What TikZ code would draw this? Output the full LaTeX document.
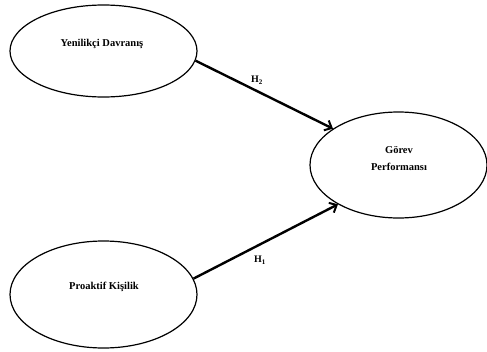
\documentclass[tikz,border=0pt]{standalone}
\usepackage{fontspec}
\setmainfont{Liberation Serif}
\usetikzlibrary{shapes.geometric,arrows.meta}
\begin{document}
\begin{tikzpicture}[x=1pt,y=-1pt,
  oval/.style={draw=black,line width=1.2pt,ellipse,inner sep=0pt},
  lbl/.style={font=\bfseries\fontsize{10.5}{17}\selectfont,inner sep=0pt,align=center},
  hlbl/.style={font=\bfseries\fontsize{10}{12}\selectfont,inner sep=0pt},
  link/.style={line width=2.4pt,-{Straight Barb[length=6pt,width=11pt,line width=2pt]}}]
\useasboundingbox (0,0) rectangle (487,351);
\node[oval,minimum width=187pt,minimum height=92pt] (yd) at (103.5,51) {};
\node[oval,minimum width=187pt,minimum height=107pt] (pk) at (103.5,294.5) {};
\node[oval,minimum width=177pt,minimum height=106pt] (gp) at (398.5,165) {};
\node[lbl] (ydt) at (102,44) {Yenilikçi Davranış};
\node[lbl] (pkt) at (104,287) {Proaktif Kişilik};
\node[lbl] (gpt) at (399,158.5) {Görev\\Performansı};
\draw[link] (yd.-6) -- (gp.151);
\draw[link] (pk.10) -- (gp.-147);
\node[hlbl] (h2) at (257,80) {H\textsubscript{2}};
\node[hlbl] (h1) at (260,260) {H\textsubscript{1}};
\end{tikzpicture}
\end{document}
